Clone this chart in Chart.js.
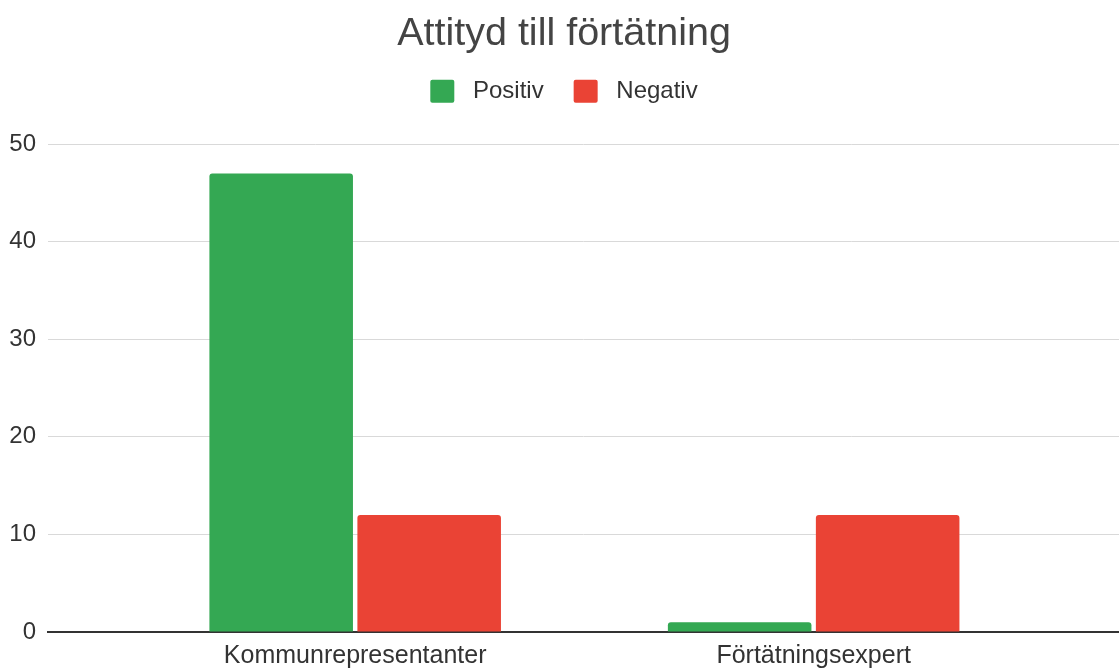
<!DOCTYPE html>
<html>
<head>
<meta charset="utf-8">
<script src="https://cdn.jsdelivr.net/npm/chart.js@4.4.0/dist/chart.umd.min.js"></script>
<style>
  html, body { margin: 0; padding: 0; background: #fff; }
  #wrap { width: 1119px; height: 671px; }
</style>
</head>
<body>
<div id="wrap"><canvas id="attChart"></canvas></div>
<script>
const categories = ['Kommunrepresentanter', 'Förtätningsexpert'];
const positiv = [47, 1];
const negativ = [12, 12];
const yTicks = [0, 10, 20, 30, 40, 50];

const FONT = "'Liberation Sans', Arial, sans-serif";

document.addEventListener("DOMContentLoaded", () => {
  const ctx = document.getElementById("attChart").getContext("2d");

  const toPoints = arr => arr.map((v, i) => ({ x: i, y: v }));

  new Chart(ctx, {
    type: 'bar',
    data: {
      datasets: [
        { label: 'Positiv', data: toPoints(positiv), backgroundColor: '#34a853', borderRadius: 3, borderWidth: 0 },
        { label: 'Negativ', data: toPoints(negativ), backgroundColor: '#ea4335', borderRadius: 3, borderWidth: 0 }
      ]
    },
    options: {
      responsive: true,
      maintainAspectRatio: false,
      animation: false,
      categoryPercentage: 0.6456,
      barPercentage: 0.97,
      layout: { padding: { left: 9, right: 0, top: 0, bottom: 0 } },
      plugins: {
        title: {
          display: true,
          text: 'Attityd till förtätning',
          color: '#444',
          font: { family: FONT, size: 39.5, weight: 'normal', lineHeight: 0.7 },
          padding: { top: 20, bottom: 1.5 }
        },
        // empty spacer between legend and plot
        subtitle: {
          display: true,
          text: '',
          weight: 500,
          font: { size: 1, lineHeight: 1 },
          padding: { top: 30, bottom: 0 }
        },
        legend: {
          display: true,
          position: 'top',
          labels: {
            color: '#333',
            font: { family: FONT, size: 24 },
            boxWidth: 24,
            boxHeight: 23,
            padding: 30,
            useBorderRadius: true,
            borderRadius: 2,
            generateLabels: chart =>
              Chart.defaults.plugins.legend.labels.generateLabels(chart)
                .map(l => ({ ...l, text: ' ' + l.text }))
          }
        },
        tooltip: { enabled: false }
      },
      scales: {
        x: {
          type: 'linear',
          min: -0.67,
          max: 1.666,
          bounds: 'data',
          offset: false,
          afterBuildTicks: axis => {
            axis.ticks = categories.map((c, i) => ({ value: i }));
          },
          afterFit: axis => { axis.height = 39; },
          ticks: {
            callback: value => categories[value],
            color: '#333',
            font: { family: FONT, size: 25 },
            padding: 9,
            autoSkip: false,
            maxRotation: 0
          },
          grid: { display: false, drawTicks: false, offset: false },
          border: { display: true, color: '#333', width: 2 }
        },
        y: {
          min: 0,
          max: 50,
          afterBuildTicks: axis => {
            axis.ticks = yTicks.map(v => ({ value: v }));
          },
          afterFit: axis => { axis.width = 39; },
          ticks: {
            color: '#333',
            font: { family: FONT, size: 24 },
            padding: 12
          },
          grid: { color: '#d9d9d9', lineWidth: 1, drawTicks: false },
          border: { display: false }
        }
      }
    }
  });
});
</script>
</body>
</html>
